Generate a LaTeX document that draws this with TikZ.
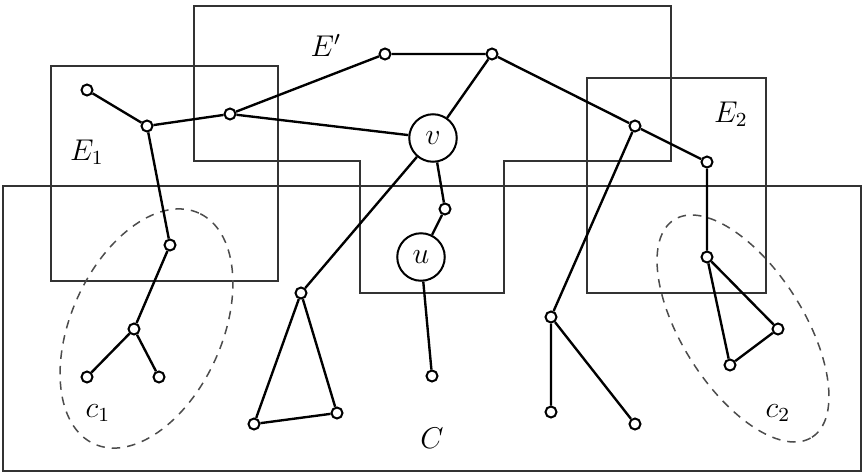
\documentclass[tikz,border=0pt]{standalone}
\usetikzlibrary{calc}
\tikzset{
  vtx/.style={circle,draw,fill=white,line width=0.8pt,inner sep=0pt,minimum size=4.4pt},
  bigv/.style={circle,draw,fill=white,line width=0.8pt,inner sep=0pt,minimum size=19pt,font=\large},
  edge/.style={line width=0.95pt},
  region/.style={draw=black!80,line width=0.7pt},
  cluster/.style={draw=black!70,line width=0.6pt,dash pattern=on 3.4pt off 2.8pt},
  lbl/.style={font=\large}
}

\begin{document}
\begin{tikzpicture}[x=0.4pt,y=-0.4pt]
    \useasboundingbox (0,0) rectangle (868,474);

    % 領域
    \draw[region] (3,186) rectangle (861,471);
    \draw[region] (51,66) rectangle (278,281);
    \draw[region] (587,78) rectangle (766,293);
    \draw[region] (194,6) -- (671,6) -- (671,161) -- (504,161) -- (504,293)
        -- (360,293) -- (360,161) -- (194,161) -- cycle;

    % 成分
    \draw[cluster] (146.5,328.5) circle [x radius=50.7pt,y radius=30.2pt,rotate=65.6];
    \draw[cluster] (743,328.5) circle [x radius=51.5pt,y radius=24.3pt,rotate=-57.6];

    % 頂点
    \node[bigv] (v) at (433,138) {$v$};
    \node[bigv] (u) at (421,257) {$u$};
    \node[vtx] (p1) at (87,90) {};
    \node[vtx] (p2) at (147,126) {};
    \node[vtx] (p3) at (230,114) {};
    \node[vtx] (p4) at (385,54) {};
    \node[vtx] (p5) at (492,54) {};
    \node[vtx] (p6) at (635,126) {};
    \node[vtx] (p7) at (707,162) {};
    \node[vtx] (p8) at (445,209) {};
    \node[vtx] (p9) at (170,245) {};
    \node[vtx] (p10) at (134,329) {};
    \node[vtx] (p11) at (87,377) {};
    \node[vtx] (p12) at (159,377) {};
    \node[vtx] (p13) at (301,293) {};
    \node[vtx] (p14) at (254,424) {};
    \node[vtx] (p15) at (337,413) {};
    \node[vtx] (p16) at (432,376) {};
    \node[vtx] (p17) at (551,317) {};
    \node[vtx] (p18) at (551,412) {};
    \node[vtx] (p19) at (635,424) {};
    \node[vtx] (p20) at (707,257) {};
    \node[vtx] (p21) at (778,329) {};
    \node[vtx] (p22) at (730,365) {};

    % 辺
    \draw[edge] (p1) -- (p2) -- (p3) -- (p4) -- (p5) -- (p6) -- (p7) -- (p20);
    \draw[edge] (p3) -- (v);
    \draw[edge] (p5) -- (v);
    \draw[edge] (p2) -- (p9) -- (p10) -- (p11);
    \draw[edge] (p10) -- (p12);
    \draw[edge] (v) -- (p13) -- (p14) -- (p15) -- (p13);
    \draw[edge] (v) -- (p8) -- (u) -- (p16);
    \draw[edge] (p6) -- (p17) -- (p18);
    \draw[edge] (p17) -- (p19);
    \draw[edge] (p20) -- (p21) -- (p22) -- (p20);

    % ラベル
    \node[lbl] (lEp) at (326,45) {$E'$};
    \node[lbl] (lE1) at (87,152) {$E_1$};
    \node[lbl] (lE2) at (731,114) {$E_2$};
    \node[lbl] (lC) at (432,438) {$C$};
    \node[lbl] (lc1) at (98,413) {$c_1$};
    \node[lbl] (lc2) at (778,413) {$c_2$};
\end{tikzpicture}
\end{document}
